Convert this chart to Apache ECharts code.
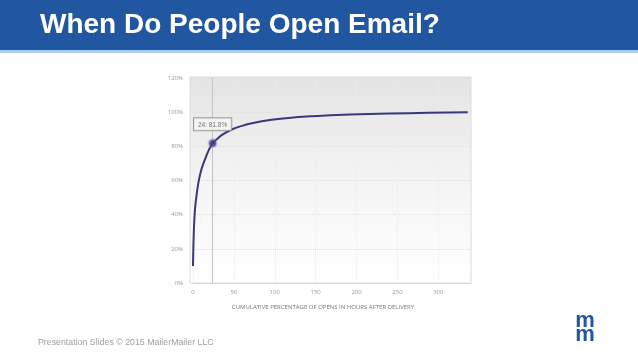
<!DOCTYPE html>
<html>
<head>
<meta charset="utf-8">
<script src="https://cdn.jsdelivr.net/npm/echarts@6/dist/echarts.min.js"></script>
<style>html,body{margin:0;padding:0;background:#fff;}#c{width:638px;height:359px;}</style>
</head>
<body>
<div id="c"></div>
<script>
var hours = [0, 1, 2, 3, 4, 6, 8, 10, 12, 16, 20, 24, 30, 36, 48, 60, 72, 96, 120, 144, 168, 216, 264, 336];
var cumulativePct = [10, 30, 40, 46, 50, 57, 62, 66, 69, 74, 78.5, 81.8, 84.5, 86.8, 90, 92, 93.5, 95.5, 96.8, 97.6, 98.2, 98.9, 99.4, 100];
var xTicks = [0, 50, 100, 150, 200, 250, 300];
var yTicks = [0, 20, 40, 60, 80, 100, 120];
var highlightHour = 24;
var highlightPct = 81.8;
var highlightLabel = '24: 81.8%';

var chart = echarts.init(document.getElementById('c'), null, { renderer: 'canvas' });
chart.setOption({
  animation: false,
  backgroundColor: '#ffffff',
  title: [
    { text: 'CUMULATIVE PERCENTAGE OF OPENS IN HOURS AFTER DELIVERY', left: 318, top: 299, textAlign: 'center',
      textStyle: { fontFamily: 'Open Sans', fontSize: 6, fontWeight: 'normal', color: '#777' } }
  ],
  graphic: [
    { type: 'rect', z: -10, shape: { x: 0, y: 0, width: 638, height: 50 }, style: { fill: '#2156a0' } },
    { type: 'rect', z: -10, shape: { x: 0, y: 50, width: 638, height: 3 }, style: { fill: '#a9cdec' } },
    { type: 'text', x: 40, y: 25, style: { text: 'When Do People Open Email?', fill: '#ffffff',
      font: 'bold 28px "Liberation Sans", Arial, sans-serif', textVerticalAlign: 'middle' } },
    { type: 'rect', z: -5, shape: { x: 190, y: 77, width: 281, height: 206 },
      style: { stroke: '#dcdcdc', lineWidth: 1,
        fill: new echarts.graphic.LinearGradient(0, 0, 0, 1, [
          { offset: 0, color: '#e4e4e4' }, { offset: 0.5, color: '#f4f4f4' }, { offset: 1, color: '#ffffff' }
        ]) } },
    { type: 'text', x: 38, y: 343, style: { text: 'Presentation Slides \u00a9 2015 MailerMailer LLC', fill: '#a0a0a0',
      font: '8.8px "Liberation Sans", Arial, sans-serif', textVerticalAlign: 'middle' } },
    { type: 'text', x: 585, y: 320.5,
      style: { text: 'm', fill: '#2156a0', font: 'bold 22px "Liberation Sans", Arial, sans-serif',
      textAlign: 'center', textVerticalAlign: 'middle' } },
    { type: 'text', x: 585, y: 335,
      style: { text: 'm', fill: '#2156a0', font: 'bold 22px "Liberation Sans", Arial, sans-serif',
      textAlign: 'center', textVerticalAlign: 'middle' } }
  ],
  grid: { left: 193, right: 167, top: 78, bottom: 76, containLabel: false },
  xAxis: {
    type: 'value', min: 0, max: 340, interval: 50,
    axisLine: { show: true, lineStyle: { color: '#d8d8d8' } },
    axisTick: { show: false },
    axisLabel: { color: '#999', fontSize: 6, fontFamily: 'Open Sans', margin: 6, customValues: xTicks },
    splitLine: { show: true, lineStyle: { color: '#ececec', width: 1, type: 'dotted' } }
  },
  yAxis: {
    type: 'value', min: 0, max: 120, interval: 20,
    axisLine: { show: false }, axisTick: { show: false },
    axisLabel: { color: '#999', fontSize: 6, fontFamily: 'Open Sans', margin: 10, formatter: '{value}%', customValues: yTicks },
    splitLine: { show: true, lineStyle: { color: '#e0e0e0', width: 1, type: 'dotted' } }
  },
  series: [{
    type: 'line',
    data: hours.map(function (h, i) { return [h, cumulativePct[i]]; }),
    smooth: 0.4,
    showSymbol: false,
    lineStyle: { color: '#38387a', width: 2 },
    itemStyle: { color: '#38387a' },
    markLine: {
      silent: true, symbol: 'none', label: { show: false },
      lineStyle: { color: '#c4c4c4', width: 1, type: 'solid' },
      data: [{ xAxis: highlightHour }]
    },
    z: 3
  }, {
    type: 'scatter',
    data: [[highlightHour, highlightPct]],
    symbol: 'circle',
    symbolSize: 7,
    itemStyle: { color: '#2b2a6b', borderColor: 'rgba(120,110,200,0.45)', borderWidth: 3 },
    label: {
      show: true, position: 'top', distance: 8,
      formatter: highlightLabel,
      fontFamily: 'Liberation Sans', fontSize: 6.5, color: '#555',
      backgroundColor: '#f8f8f8', borderColor: '#8a8a8a', borderWidth: 1,
      padding: [3, 4, 2, 4]
    },
    z: 5
  }]
});
</script>
</body>
</html>
